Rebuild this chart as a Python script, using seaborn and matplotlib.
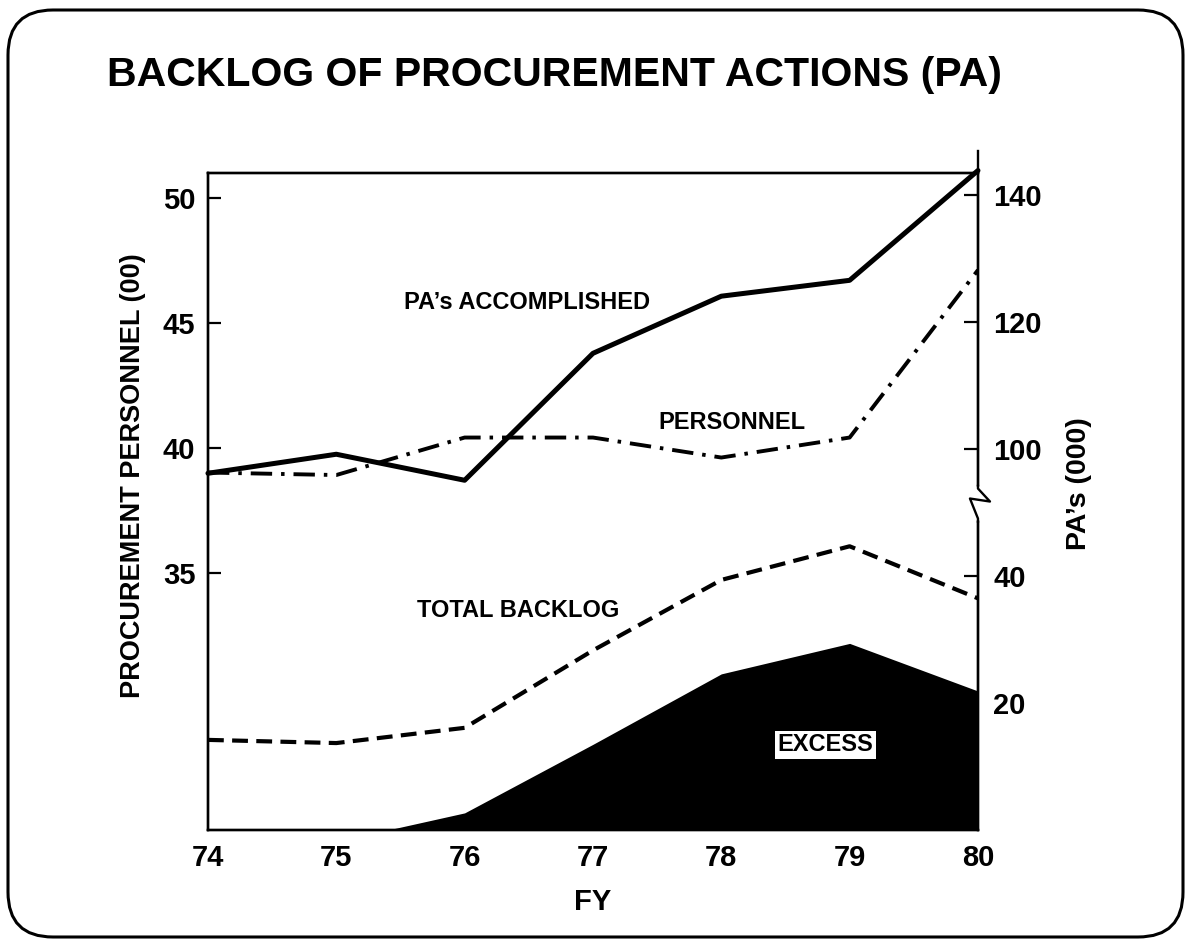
import numpy as np
import matplotlib
matplotlib.use("Agg")
import matplotlib.pyplot as plt
import matplotlib.transforms as mtransforms
from matplotlib import font_manager
from matplotlib.patches import FancyBboxPatch
import seaborn as sns

## chart data
fy = [74, 75, 76, 77, 78, 79, 80]
personnel = [39.0, 38.9, 40.4, 40.4, 39.6, 40.4, 47.1]          # left axis, (00)
pa_accomplished = [96.2, 99.2, 95.1, 115.1, 124.1, 126.6, 143.9]  # right axis, (000)
total_backlog = [14.2, 13.7, 16.1, 28.3, 39.4, 44.7, 36.5]       # right axis, (000)
excess_fy = [74, 75, 75.4, 76, 77, 78, 79, 80]
excess = [0, 0, 0, 2.7, 13.5, 24.6, 29.4, 21.9]

left_ticks = [35, 40, 45, 50]
right_ticks = [20, 40, 100, 120, 140]
x_ticks = [74, 75, 76, 77, 78, 79, 80]


## broken right axis: 50..92 squeezed into a short gap
def fwd(v):
    v = np.asarray(v, dtype=float)
    return np.where(v <= 50, v, np.where(v >= 92, v - 40, 50 + (v - 50) * 2 / 42))


def inv(f):
    f = np.asarray(f, dtype=float)
    return np.where(f <= 50, f, np.where(f >= 52, f + 40, 50 + (f - 50) * 21))


sns.set_style("white")
names = {f.name for f in font_manager.fontManager.ttflist}
narrow = "Liberation Sans Narrow" in names
plt.rcParams["font.family"] = ["Liberation Sans", "DejaVu Sans"]
plt.rcParams["font.weight"] = "bold"
plt.rcParams["axes.labelweight"] = "bold"
plt.rcParams["text.color"] = "black"
plt.rcParams["axes.labelcolor"] = "black"
plt.rcParams["xtick.color"] = "black"
plt.rcParams["ytick.color"] = "black"

fig = plt.figure(figsize=(11.87, 9.43), dpi=100)
ax = fig.add_axes([0.1752, 0.1198, 0.6487, 0.6967])
ax2 = ax.twinx()

# left axis: personnel
sns.lineplot(x=fy, y=personnel, ax=ax, color="black", lw=2.8,
             linestyle=(0, (5.5, 2.3, 0.9, 2.3)))

# right axis: PA's
ax2.set_yscale("function", functions=(fwd, inv))
ax2.fill_between(excess_fy, excess, 0, color="black", lw=0, zorder=1)
sns.lineplot(x=fy, y=total_backlog, ax=ax2, color="black", lw=3.0,
             linestyle=(0, (3.8, 2.0)))
sns.lineplot(x=fy, y=pa_accomplished, ax=ax2, color="black", lw=3.6,
             linestyle="-", clip_on=False)

ax.set_xlim(74, 80)
ax.set_ylim(24.7, 50.98)
ax2.set_ylim(0, float(inv(103.5)))

ax.set_xticks(x_ticks)
ax.set_yticks(left_ticks)
ax2.set_yticks(right_ticks)
ax2.set_yticklabels([str(t) for t in right_ticks])

ax.tick_params(axis="y", direction="in", length=9.5, width=1.6, labelsize=21, pad=9)
ax.tick_params(axis="x", direction="in", length=11, width=1.6, labelsize=21, pad=10)
ax2.tick_params(axis="y", direction="in", length=10, width=1.6, labelsize=21, pad=11)

for s in list(ax.spines.values()) + list(ax2.spines.values()):
    s.set_linewidth(1.7)
    s.set_color("black")
ax2.spines["right"].set_bounds(0, float(inv(107)))

ax.set_xlabel("FY", fontsize=21)
ax.xaxis.set_label_coords(0.5, -0.088)
ax.set_ylabel("PROCUREMENT PERSONNEL (00)", fontsize=19.5)
ax.yaxis.set_label_coords(-0.08, 0.54)
ax2.set_ylabel("PA\u2019s (000)", fontsize=20.5)
ax2.yaxis.set_label_coords(1.114, 0.527)

# series labels
ax.text(76.49, 45.8, "PA\u2019s ACCOMPLISHED", fontsize=17, ha="center", va="center")
ax.text(78.08, 41.0, "PERSONNEL", fontsize=17, ha="center", va="center")
ax.text(76.42, 33.5, "TOTAL BACKLOG", fontsize=17, ha="center", va="center")
ax2.text(78.81, 13.4, "EXCESS", fontsize=17, ha="center", va="center", zorder=5,
         bbox=dict(facecolor="white", edgecolor="none", pad=2))

# axis break mark on the right spine
brk = mtransforms.blended_transform_factory(ax.transAxes, ax.transData)
ax2.plot([1.0, 1.0], [38.45, 37.1], transform=brk, color="white", lw=5,
         clip_on=False, zorder=6, solid_capstyle="butt")
ax2.plot([1.0, 1.0, 1.0156, 0.9896, 1.0, 1.0], [38.5, 38.36, 37.84, 37.96, 37.16, 37.0],
         transform=brk, color="black", lw=1.7, clip_on=False, zorder=7)

# title
if narrow:
    fig.text(0.467, 0.92, "BACKLOG OF PROCUREMENT ACTIONS (PA)", fontsize=36,
             family=["Liberation Sans Narrow", "Liberation Sans"], ha="center", va="center")
else:
    fig.text(0.467, 0.92, "BACKLOG OF PROCUREMENT ACTIONS (PA)", fontsize=29.5,
             ha="center", va="center")

# rounded frame around the slide
fig.patches.append(FancyBboxPatch((0.08, 0.06), 11.75, 9.27,
                                  boxstyle="round,pad=0,rounding_size=0.45",
                                  transform=fig.dpi_scale_trans, fill=False,
                                  lw=2.2, ec="black"))

fig.savefig("out.png", dpi=100)
